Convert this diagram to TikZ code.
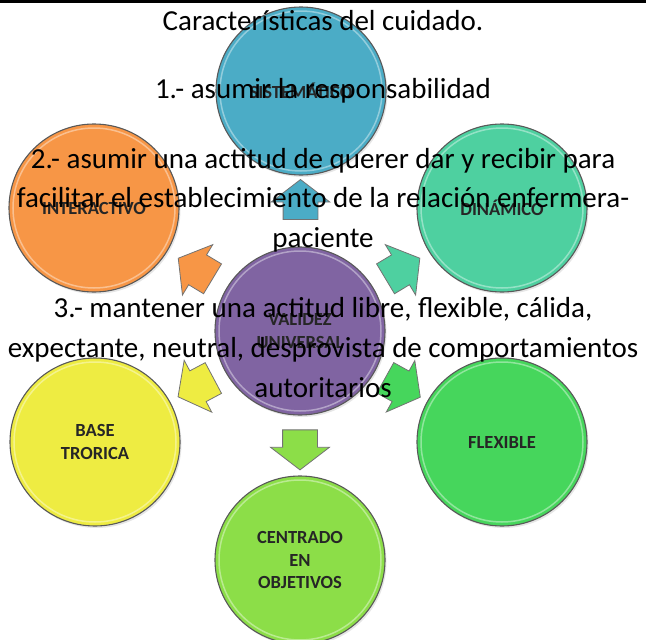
\documentclass[tikz,border=0pt]{standalone}
\usepackage{fontspec}
\setmainfont{Carlito}
\usepackage{tikz}
\usetikzlibrary{shapes.geometric,shapes.arrows,calc,shadows}
\pgfdeclarelayer{background}
\pgfsetlayers{background,main}
\definecolor{cSis}{RGB}{75,172,198}
\definecolor{cInt}{RGB}{247,150,70}
\definecolor{cDin}{RGB}{78,208,160}
\definecolor{cVal}{RGB}{128,100,162}
\definecolor{cBas}{RGB}{238,236,66}
\definecolor{cFle}{RGB}{70,214,92}
\definecolor{cCen}{RGB}{140,222,72}

\begin{document}
\begin{tikzpicture}[x=1pt,y=-1pt]
\tikzstyle{circ}=[ellipse,draw=black!65,line width=1.1pt,minimum width=170pt,minimum height=168pt,inner sep=0pt,align=center,text=black!85,font=\fontsize{18.5}{22.5}\selectfont\bfseries,drop shadow={opacity=.2,shadow xshift=1.5pt,shadow yshift=-2pt}]
\tikzstyle{blk}=[single arrow,draw=black!55,line width=.8pt,minimum height=40pt,inner xsep=0pt,inner ysep=17pt,single arrow head extend=12pt,single arrow tip angle=105]
\tikzstyle{txt}=[anchor=base,font=\fontsize{29}{35}\selectfont,inner sep=0pt]
\useasboundingbox (0,0) rectangle (646,640);
\draw[line width=3pt] (0,1.5) -- (646,1.5);

\begin{pgfonlayer}{background}
\node[circ,fill=cSis] (sis) at (301,91) {SISTEMÁTICO};
\node[circ,fill=cInt] (int) at (94,208) {INTERACTIVO};
\node[circ,fill=cDin] (din) at (502,208) {DINÁMICO};
\node[circ,fill=cVal] (val) at (300,331) {VALIDEZ\\UNIVERSAL};
\node[circ,fill=cBas] (bas) at (95,442) {BASE\\TRORICA};
\node[circ,fill=cFle] (fle) at (502,442) {FLEXIBLE};
\node[circ,fill=cCen] (cen) at (300,560) {CENTRADO\\EN\\OBJETIVOS};
\foreach \n in {sis,int,din,val,bas,fle,cen}
  \draw[white,opacity=.4,line width=1.5pt] (\n.center) ellipse [x radius=81pt,y radius=80pt];
\end{pgfonlayer}

% arrows out of the middle
\node[blk,fill=cSis,rotate=90] (aSis) at ($(val)!.52!(sis)$) {};
\node[blk,fill=cInt,rotate=149] (aInt) at ($(val)!.48!(int)$) {};
\node[blk,fill=cDin,rotate=31] (aDin) at ($(val)!.48!(din)$) {};
\node[blk,fill=cBas,rotate=208] (aBas) at ($(val)!.48!(bas)$) {};
\node[blk,fill=cFle,rotate=-29] (aFle) at ($(val)!.48!(fle)$) {};
\node[blk,fill=cCen,rotate=-90] (aCen) at ($(val)!.49!(cen)$) {};

\foreach \y/\s [count=\i from 0] in {
  30/{Características del cuidado.},
  98/{1.- asumir la responsabilidad},
  168/{2.- asumir una actitud de querer dar y recibir para},
  207/{facilitar el establecimiento de la relación enfermera-},
  247/{paciente},
  317/{3.- mantener una actitud libre, flexible, cálida,},
  357/{expectante, neutral, desprovista de comportamientos},
  397/{autoritarios}}
  \node[txt] (t\i) at (323,\y) {\s};
\end{tikzpicture}
\end{document}
